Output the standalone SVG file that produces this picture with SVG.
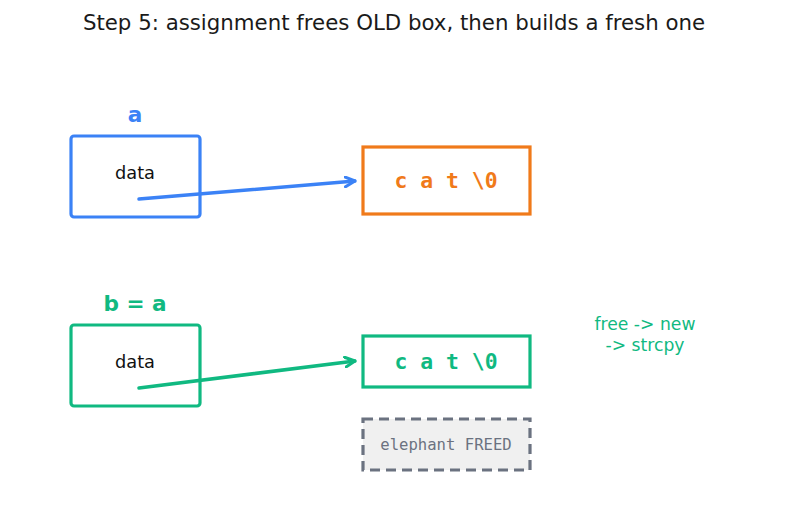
<svg xmlns="http://www.w3.org/2000/svg" width="787" height="508" viewBox="0 0 787 508">
<style>
text{font-family:"DejaVu Sans","Liberation Sans",sans-serif;text-anchor:middle}
.mono{font-family:"DejaVu Sans Mono","Liberation Mono",monospace}
.ptr{fill:#fff;stroke-width:3.2}
.lbl{font-size:21.6px;font-weight:bold}
.data{font-size:17.8px;fill:#111}
.str{font-size:21.4px;font-weight:bold}
.conn{fill:none;stroke-width:3.5;stroke-linecap:round}
</style>
<defs>
<marker id="ab" viewBox="0 0 12 12" refX="11" refY="6" markerWidth="12" markerHeight="12" markerUnits="userSpaceOnUse" orient="auto"><path d="M1,1 L11,6 L1,11" fill="none" stroke="#3b82f6" stroke-width="3" stroke-linecap="round" stroke-linejoin="round"/></marker>
<marker id="ag" viewBox="0 0 12 12" refX="11" refY="6" markerWidth="12" markerHeight="12" markerUnits="userSpaceOnUse" orient="auto"><path d="M1,1 L11,6 L1,11" fill="none" stroke="#10b981" stroke-width="3" stroke-linecap="round" stroke-linejoin="round"/></marker>
</defs>
<rect width="787" height="508" fill="#fff"/>
<text x="394" y="30" font-size="21.3" fill="#1a1a1a">Step 5: assignment frees OLD box, then builds a fresh one</text>
<g id="node-a">
<text class="lbl" x="135" y="122" fill="#3b82f6">a</text>
<rect class="ptr" x="71" y="136" width="129" height="81" rx="3" stroke="#3b82f6"/>
<text class="data" x="135" y="179">data</text>
</g>
<g id="node-cat-a">
<rect x="363" y="147" width="167" height="67" fill="#fff" stroke="#f07a1a" stroke-width="3.2"/>
<text class="mono str" x="446" y="188" fill="#f07a1a">c a t \0</text>
</g>
<g id="node-b">
<text class="lbl" x="135" y="311" fill="#10b981">b = a</text>
<rect class="ptr" x="71" y="325" width="129" height="81" rx="3" stroke="#10b981"/>
<text class="data" x="135" y="368">data</text>
</g>
<g id="node-cat-b">
<rect x="363" y="336" width="167" height="51" fill="#fff" stroke="#10b981" stroke-width="3.2"/>
<text class="mono str" x="446" y="369" fill="#10b981">c a t \0</text>
</g>
<g id="node-freed">
<rect x="363" y="419" width="167" height="51" fill="#f0f0f0" stroke="#6b7280" stroke-width="3.2" stroke-dasharray="10,6"/>
<text class="mono" x="446" y="450" font-size="15.6" fill="#6b7280">elephant FREED</text>
</g>
<g id="note">
<text x="645" y="330" font-size="17.2" fill="#10b981">free -&gt; new</text>
<text x="645" y="351" font-size="17.2" fill="#10b981">-&gt; strcpy</text>
</g>
<g id="connectors">
<line class="conn" x1="139" y1="199" x2="355" y2="181" stroke="#3b82f6" marker-end="url(#ab)"/>
<line class="conn" x1="139" y1="388" x2="355" y2="361" stroke="#10b981" marker-end="url(#ag)"/>
</g>
</svg>
